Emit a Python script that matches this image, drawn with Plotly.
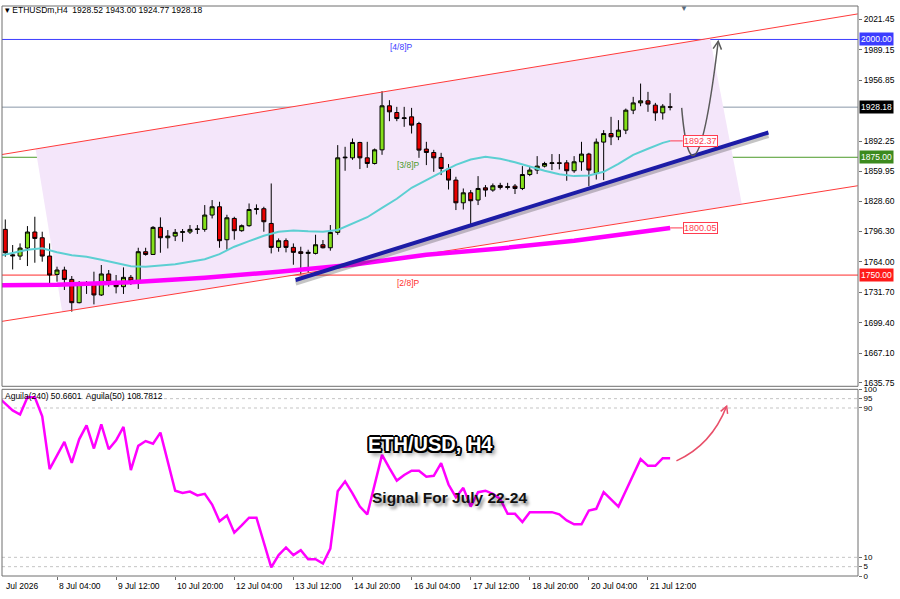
import plotly.graph_objects as go

# ---------------- data ----------------
bar_idx = list(range(-7, 84))
opens = [1798.5, 1771.5, 1770.2, 1778.7, 1795.7, 1789.6, 1770.2,
         1750.7, 1755.4, 1745.4, 1720.7, 1739.5, 1741.9, 1728.9, 1751.2, 1742.7, 1737.7,
         1747.6, 1743.7, 1774.8, 1771.9, 1800.6, 1789.6, 1791.4, 1795.3, 1795.7, 1798.5,
         1798.5, 1813.7, 1822.5, 1787.5, 1810.1, 1797.1, 1802.4, 1819.6, 1820.4, 1804.8,
         1779.4, 1786.5, 1779.4, 1774.8, 1773.0, 1773.0, 1782.2, 1779.0, 1795.3, 1874.4,
         1874.4, 1890.7, 1874.4, 1868.4, 1882.9, 1929.6, 1922.5, 1916.1, 1917.9, 1910.8,
         1883.7, 1880.1, 1874.8, 1862.5, 1850.8, 1826.7, 1837.3, 1829.6, 1842.6, 1840.2,
         1845.1, 1843.0, 1844.4, 1841.9, 1856.7, 1861.4, 1865.6, 1868.4, 1869.1, 1869.1,
         1860.7, 1870.2, 1878.4, 1858.0, 1891.1, 1900.2, 1896.7, 1903.8, 1925.0, 1932.7,
         1934.9, 1930.3, 1922.1, 1928.52]
highs = [1809.0, 1781.9, 1783.6, 1802.0, 1811.9, 1796.0, 1783.6,
         1758.9, 1758.9, 1749.0, 1743.7, 1743.7, 1753.6, 1760.7, 1755.4, 1750.1, 1758.2,
         1750.1, 1779.0, 1779.0, 1802.0, 1811.2, 1797.8, 1798.9, 1798.9, 1803.1, 1803.1,
         1824.3, 1829.6, 1827.8, 1814.0, 1811.9, 1803.7, 1826.0, 1825.0, 1822.5, 1847.2,
         1788.9, 1788.9, 1783.6, 1780.1, 1776.9, 1792.8, 1787.2, 1803.1, 1887.9, 1886.1,
         1894.9, 1891.4, 1891.4, 1884.3, 1945.1, 1935.6, 1928.5, 1928.5, 1927.4, 1912.6,
         1891.4, 1882.9, 1879.7, 1867.8, 1854.3, 1841.9, 1840.2, 1855.0, 1845.5, 1847.2,
         1847.9, 1847.9, 1846.6, 1865.6, 1865.6, 1876.2, 1870.2, 1878.4, 1878.4, 1872.0,
         1876.2, 1891.4, 1879.7, 1894.9, 1903.8, 1917.9, 1914.4, 1926.7, 1939.1, 1953.2,
         1944.4, 1932.7, 1931.4, 1943.00]
lows = [1769.5, 1756.0, 1766.0, 1759.6, 1763.1, 1764.2, 1739.5,
        1743.0, 1734.2, 1711.2, 1720.0, 1730.0, 1718.9, 1727.8, 1737.7, 1730.6, 1730.0,
        1739.5, 1735.3, 1770.6, 1771.3, 1773.7, 1778.3, 1786.1, 1785.4, 1793.6, 1793.6,
        1796.0, 1810.1, 1779.0, 1776.9, 1787.5, 1796.0, 1801.3, 1814.3, 1796.0, 1773.0,
        1774.8, 1774.1, 1761.0, 1750.7, 1752.5, 1771.9, 1778.3, 1775.9, 1792.8, 1860.7,
        1872.3, 1862.5, 1863.8, 1867.3, 1877.6, 1913.3, 1913.3, 1907.3, 1900.2, 1874.4,
        1866.7, 1859.6, 1856.1, 1840.8, 1819.0, 1819.6, 1801.3, 1824.3, 1833.1, 1838.4,
        1840.8, 1840.8, 1836.0, 1840.2, 1855.0, 1857.2, 1864.2, 1861.4, 1862.1, 1850.1,
        1858.5, 1860.7, 1844.4, 1851.4, 1850.8, 1887.9, 1893.2, 1899.6, 1920.8, 1929.2,
        1923.2, 1913.7, 1915.0, 1924.77]
closes = [1773.7, 1770.5, 1778.7, 1795.7, 1788.9, 1770.2, 1750.1,
          1755.4, 1745.4, 1720.7, 1740.1, 1741.9, 1728.9, 1751.2, 1742.7, 1737.7, 1747.6,
          1743.7, 1774.8, 1771.9, 1800.6, 1789.6, 1791.4, 1795.3, 1796.0, 1798.5, 1798.8,
          1813.7, 1822.5, 1786.5, 1810.8, 1797.1, 1802.4, 1819.6, 1820.4, 1806.6, 1779.4,
          1786.5, 1779.4, 1774.1, 1773.0, 1774.1, 1782.2, 1779.0, 1795.3, 1874.4, 1875.0,
          1890.7, 1874.4, 1868.4, 1882.9, 1929.6, 1923.2, 1916.1, 1916.8, 1909.1, 1882.6,
          1880.1, 1874.4, 1863.1, 1850.8, 1826.7, 1837.3, 1828.9, 1841.9, 1840.2, 1844.8,
          1843.0, 1843.7, 1841.9, 1856.7, 1861.4, 1865.6, 1868.4, 1869.1, 1868.6, 1860.7,
          1870.2, 1878.4, 1861.4, 1891.1, 1900.2, 1896.7, 1903.8, 1925.0, 1932.7, 1934.9,
          1931.4, 1922.1, 1929.2, 1928.18]

ma_fast_idx = list(range(-8, 83, 2)) + [83]
ma_fast = [1770.0, 1773.7, 1776.9, 1778.5, 1774.3, 1771.1, 1769.5, 1766.3, 1762.6, 1759.4,
           1758.9, 1760.0, 1761.5, 1764.2, 1766.8, 1772.2, 1780.1, 1786.0, 1791.8, 1796.0,
           1797.4, 1796.5, 1796.0, 1797.8, 1804.5, 1811.4, 1821.4, 1831.0, 1842.6, 1851.1,
           1859.1, 1867.0, 1872.6, 1875.5, 1873.4, 1869.7, 1864.9, 1860.7, 1857.0, 1855.0,
           1855.6, 1859.6, 1868.1, 1877.6, 1884.0, 1890.3, 1892.37]
ma_slow_idx = [-8, 0, 10, 20, 30, 40, 50, 60, 70, 80, 83]
ma_slow = [1739.3, 1739.8, 1742.5, 1747.2, 1753.6, 1761.0, 1771.6, 1778.3, 1786.5, 1796.0, 1800.05]

osc_idx = list(range(-8, 84))
osc = [96.0, 92.4, 88.7, 86.5, 95.7, 95.7, 85.6, 57.3, 64.4, 71.8, 60.6, 73.2, 80.7, 68.3,
       81.2, 67.9, 72.7, 79.9, 56.7, 69.7, 72.3, 70.9, 76.8, 61.7, 45.7, 44.5, 45.2, 43.2,
       44.0, 38.3, 29.3, 32.4, 23.2, 27.1, 31.2, 31.2, 17.4, 4.6, 11.2, 15.3, 11.2, 13.8,
       9.0, 9.0, 6.7, 14.7, 45.4, 50.7, 44.3, 37.2, 33.0, 48.9, 64.9, 57.8, 51.1, 54.1,
       56.4, 56.4, 53.2, 53.7, 60.5, 49.0, 42.2, 47.2, 37.2, 44.9, 45.7, 44.0, 41.3, 33.3,
       33.3, 28.9, 34.2, 34.2, 34.2, 34.2, 33.0, 29.8, 27.7, 27.7, 35.1, 36.0, 44.9, 41.3,
       37.2, 45.7, 54.1, 62.6, 59.0, 59.0, 63.1, 63.1]

x_label_idx = [0, 8, 16, 24, 32, 40, 48, 56, 64, 72, 80]
x_labels = ["8 Jul 04:00", "9 Jul 12:00", "10 Jul 20:00", "12 Jul 04:00", "13 Jul 12:00",
            "14 Jul 20:00", "16 Jul 04:00", "17 Jul 12:00", "18 Jul 20:00", "20 Jul 04:00",
            "21 Jul 12:00"]
price_ticks = [2021.45, 1989.15, 1956.85, 1892.25, 1859.95, 1828.60, 1796.30, 1764.00,
               1731.70, 1699.40, 1667.10, 1635.75]
osc_ticks = [100, 95, 90, 10, 5, 0]
osc_levels = [95, 90, 10, 5]

levels = [2000.00, 1928.18, 1875.00, 1750.00]
level_colors = ["#3c3cff", "#8a97a8", "#4c9a2a", "#ff2a2a"]
level_box_colors = ["#3c3cff", "#000000", "#3c8a1e", "#ff1a1a"]
murrey_text = ["[4/8]P", "[3/8]P", "[2/8]P"]
murrey_price = [2000.00, 1875.00, 1750.00]
murrey_idx = [46.6, 47.6, 47.6]
murrey_colors = ["#3c3cff", "#4c9a2a", "#ff3030"]

channel_idx = [-7.7, 108.4]
channel_upper = [1877.6, 2027.1]
channel_lower = [1700.6, 1844.8]
zone_idx = [-2.9, 0.7, 92.7, 88.4]
zone_price = [1883.8, 1711.1, 1825.7, 2001.3]
trend_idx = [32.3, 96.3]
trend_price = [1744.8, 1901.3]
arrow_idx = [84.56, 85.41, 87.31, 89.51]
arrow_price = [1927.4, 1849.0, 1854.3, 1998.1]
arrow_wing_idx = [88.82, 89.95]
arrow_wing_price = [1990.3, 1989.2]
osc_arrow_idx = [83.85, 88.6, 90.65]
osc_arrow_val = [61.7, 70.2, 91.0]
osc_wing_idx = [89.84, 90.78]
osc_wing_val = [88.2, 86.8]

X_RANGE = [-7.445, 108.43]
P_RANGE = [1632.0, 2035.5]
FONT = "Liberation Sans, Arial, sans-serif"

fig = go.Figure()

# channel lines
for ys in (channel_upper, channel_lower):
    fig.add_trace(go.Scatter(x=channel_idx, y=ys, mode="lines",
                             line=dict(color="#ff3a3a", width=1), hoverinfo="skip",
                             yaxis="y"))
# slow MA (magenta)
fig.add_trace(go.Scatter(x=ma_slow_idx, y=ma_slow, mode="lines",
                         line=dict(color="#ff00ff", width=4.5), yaxis="y"))
# candles
fig.add_trace(go.Candlestick(
    x=bar_idx, open=opens, high=highs, low=lows, close=closes, yaxis="y",
    increasing=dict(line=dict(color="#000000", width=1), fillcolor="#84e01a"),
    decreasing=dict(line=dict(color="#000000", width=1), fillcolor="#e80000"),
    whiskerwidth=0))
# fast MA (turquoise)
fig.add_trace(go.Scatter(x=ma_fast_idx, y=ma_fast, mode="lines",
                         line=dict(color="#5ccfd2", width=2), yaxis="y"))
# trendline shadow + trendline
fig.add_trace(go.Scatter(x=trend_idx, y=[p - 3.2 for p in trend_price], mode="lines",
                         line=dict(color="rgba(60,60,60,0.30)", width=5), yaxis="y"))
fig.add_trace(go.Scatter(x=trend_idx, y=trend_price, mode="lines",
                         line=dict(color="#1c1ca6", width=4), yaxis="y"))
# oscillator
fig.add_trace(go.Scatter(x=osc_idx, y=osc, mode="lines",
                         line=dict(color="#ff00ff", width=2.5), yaxis="y2"))

shapes = []
# channel zone
zp = "M {} {} L {} {} L {} {} L {} {} Z".format(
    zone_idx[0], zone_price[0], zone_idx[1], zone_price[1],
    zone_idx[2], zone_price[2], zone_idx[3], zone_price[3])
shapes.append(dict(type="path", path=zp, xref="x", yref="y", layer="below",
                   fillcolor="#f4e6fa", line=dict(width=0)))
# horizontal levels
for lv, c in zip(levels, level_colors):
    shapes.append(dict(type="line", xref="x domain", x0=0, x1=1, yref="y", y0=lv, y1=lv,
                       line=dict(color=c, width=1), layer="below"))
# oscillator levels
for lv in osc_levels:
    shapes.append(dict(type="line", xref="x domain", x0=0, x1=1, yref="y2", y0=lv, y1=lv,
                       line=dict(color="#c4c4c4", width=1, dash="3px,3px"), layer="below"))
# black curved arrow
ap = "M {} {} C {} {}, {} {}, {} {}".format(
    arrow_idx[0], arrow_price[0], arrow_idx[1], arrow_price[1],
    arrow_idx[2], arrow_price[2], arrow_idx[3], arrow_price[3])
shapes.append(dict(type="path", path=ap, xref="x", yref="y",
                   line=dict(color="#5a5a5a", width=1.5)))
aw = "M {} {} L {} {} L {} {}".format(arrow_wing_idx[0], arrow_wing_price[0],
                                      arrow_idx[3], arrow_price[3],
                                      arrow_wing_idx[1], arrow_wing_price[1])
shapes.append(dict(type="path", path=aw, xref="x", yref="y",
                   line=dict(color="#5a5a5a", width=1.5)))
# red curved arrow in oscillator
op = "M {} {} Q {} {}, {} {}".format(osc_arrow_idx[0], osc_arrow_val[0],
                                     osc_arrow_idx[1], osc_arrow_val[1],
                                     osc_arrow_idx[2], osc_arrow_val[2])
shapes.append(dict(type="path", path=op, xref="x", yref="y2",
                   line=dict(color="#e8506a", width=1.5)))
ow = "M {} {} L {} {} L {} {}".format(osc_wing_idx[0], osc_wing_val[0],
                                      osc_arrow_idx[2], osc_arrow_val[2],
                                      osc_wing_idx[1], osc_wing_val[1])
shapes.append(dict(type="path", path=ow, xref="x", yref="y2",
                   line=dict(color="#e8506a", width=1.5)))
# MA label connectors
for v in (ma_fast[-1], ma_slow[-1]):
    shapes.append(dict(type="line", xref="x", yref="y", x0=83, x1=84.7, y0=v, y1=v,
                       line=dict(color="#ff3c50", width=1)))
# panel frames
P_BOTTOM = 0.3328
O_TOP = 0.3275
shapes.append(dict(type="rect", xref="paper", yref="paper", x0=0, x1=1, y0=P_BOTTOM, y1=1,
                   line=dict(color="#6e6e6e", width=1)))
shapes.append(dict(type="rect", xref="paper", yref="paper", x0=0, x1=1, y0=0, y1=O_TOP,
                   line=dict(color="#6e6e6e", width=1)))

annotations = []
# header
annotations.append(dict(xref="paper", yref="paper", x=0, y=1, xanchor="left", yanchor="top",
                        xshift=1, yshift=3, showarrow=False,
                        text="▾ ETHUSDm,H4  1928.52 1943.00 1924.77 1928.18",
                        font=dict(family=FONT, size=8.5, color="#000000")))
annotations.append(dict(xref="paper", yref="paper", x=0, y=O_TOP, xanchor="left", yanchor="top",
                        xshift=1, yshift=0, showarrow=False,
                        text="Aguila(240) 50.6601  Aguila(50) 108.7812",
                        font=dict(family=FONT, size=8.5, color="#000000")))
# murrey labels
for t, p, i, c in zip(murrey_text, murrey_price, murrey_idx, murrey_colors):
    annotations.append(dict(xref="x", yref="y", x=i, y=p, xanchor="center", yanchor="top",
                            yshift=-1, showarrow=False, text=t,
                            font=dict(family=FONT, size=8.5, color=c)))
# right price boxes
for lv, c in zip(levels, level_box_colors):
    annotations.append(dict(xref="paper", yref="y", x=1, y=lv, xanchor="left", yanchor="middle",
                            xshift=1, showarrow=False, text=f"{lv:.2f}", bgcolor=c, borderpad=1,
                            font=dict(family=FONT, size=8.5, color="#ffffff")))
# MA value boxes
for v in (ma_fast[-1], ma_slow[-1]):
    annotations.append(dict(xref="x", yref="y", x=84.7, y=v, xanchor="left", yanchor="middle",
                            showarrow=False,
                            text=f"{v:.2f}", bgcolor="rgba(255,255,255,0.9)",
                            bordercolor="#ff3c50", borderwidth=1, borderpad=0,
                            font=dict(family=FONT, size=9, color="#ff3c50")))
# x labels
for i, t in zip(x_label_idx, x_labels):
    annotations.append(dict(xref="x", yref="paper", x=i, y=0, xanchor="left", yanchor="top",
                            yshift=-3, showarrow=False, text=t,
                            font=dict(family=FONT, size=8.5, color="#000000")))
annotations.append(dict(xref="paper", yref="paper", x=0, y=0, xanchor="left", yanchor="top",
                        xshift=2, yshift=-3, showarrow=False, text="Jul 2026",
                        font=dict(family=FONT, size=8.5, color="#000000")))
# titles
outline = ("-1.5px -1.5px 0 #000, 1.5px -1.5px 0 #000, -1.5px 1.5px 0 #000, "
           "1.5px 1.5px 0 #000, 0 2px 0 #000, 2px 0 0 #000, -2px 0 0 #000, 0 -2px 0 #000, "
           "3px 4px 4px rgba(0,0,0,0.55)")
annotations.append(dict(xref="paper", yref="paper", x=0.501, y=0.2317,
                        xanchor="center", yanchor="middle", showarrow=False,
                        text="<b>ETH/USD, H4</b>",
                        font=dict(family=FONT, size=20, color="#ffffff", shadow=outline)))
annotations.append(dict(xref="paper", yref="paper", x=0.523, y=0.1376,
                        xanchor="center", yanchor="middle", showarrow=False,
                        text="<b>Signal For July 22-24</b>",
                        font=dict(family=FONT, size=15.5, color="#111111",
                                  shadow="2px 3px 3px rgba(0,0,0,0.45)")))
annotations.append(dict(xref="paper", yref="paper", x=0.797, y=1, xanchor="center",
                        yanchor="top", yshift=4, showarrow=False, text="▼",
                        font=dict(family=FONT, size=8, color="#5a6a7a")))

fig.update_layout(
    width=900, height=599,
    margin=dict(l=2, r=42, t=2, b=23),
    paper_bgcolor="#ffffff", plot_bgcolor="#ffffff",
    showlegend=False, boxgap=0.22,
    shapes=shapes, annotations=annotations,
    xaxis=dict(range=X_RANGE, anchor="y2", showgrid=False, zeroline=False,
               tickvals=x_label_idx, showticklabels=False, ticks="outside", ticklen=3,
               tickcolor="#6e6e6e", rangeslider=dict(visible=False), showline=False),
    yaxis=dict(domain=[P_BOTTOM, 1], range=P_RANGE, side="right", showgrid=False,
               zeroline=False, tickvals=price_ticks,
               ticktext=[f"{v:.2f}" for v in price_ticks], ticks="outside", ticklen=3,
               tickcolor="#6e6e6e", tickfont=dict(family=FONT, size=8.5, color="#000000"),
               showline=False),
    yaxis2=dict(domain=[0, O_TOP], range=[0, 100], side="right", showgrid=False,
                zeroline=False, tickvals=osc_ticks, ticktext=[str(v) for v in osc_ticks],
                ticks="outside", ticklen=3, tickcolor="#6e6e6e",
                tickfont=dict(family=FONT, size=8, color="#000000"), showline=False),
)

fig.write_html(
    "out.html",
    config={"displayModeBar": False},
    post_script=("document.body.style.margin='0';document.body.style.padding='0';"
                 "document.documentElement.style.overflow='hidden';"
                 "var gd=document.getElementById('{plot_id}');"
                 "gd.style.position='absolute';gd.style.top='0px';gd.style.left='0px';"))
